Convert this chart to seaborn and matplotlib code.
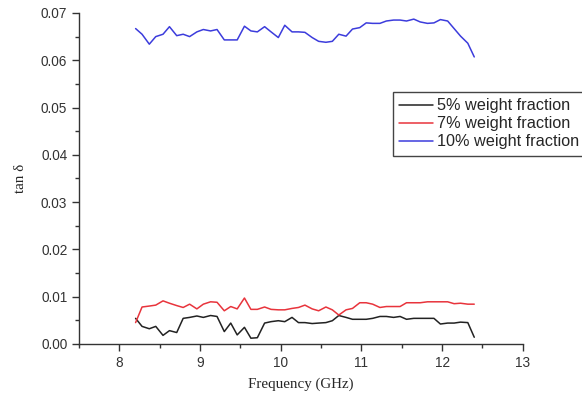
import matplotlib
matplotlib.use("Agg")
import matplotlib.pyplot as plt
from matplotlib.ticker import MultipleLocator
import seaborn as sns
import pandas as pd

# Frequency points (GHz)
freq = [8.20, 8.28, 8.37, 8.45, 8.54, 8.62, 8.71, 8.79, 8.87, 8.96,
        9.04, 9.13, 9.21, 9.30, 9.38, 9.46, 9.55, 9.63, 9.71, 9.80,
        9.88, 9.97, 10.05, 10.14, 10.22, 10.30, 10.39, 10.47, 10.56, 10.64,
        10.72, 10.81, 10.89, 10.98, 11.06, 11.14, 11.23, 11.31, 11.40, 11.48,
        11.56, 11.65, 11.73, 11.82, 11.90, 11.98, 12.07, 12.15, 12.23, 12.32,
        12.40]

# tan delta for each weight fraction
tan_5 = [0.0054, 0.0037, 0.0032, 0.0037, 0.0018, 0.0028, 0.0024, 0.0054, 0.0056, 0.0059,
         0.0056, 0.0060, 0.0058, 0.0026, 0.0044, 0.0019, 0.0035, 0.0012, 0.0013, 0.0044,
         0.0047, 0.0049, 0.0047, 0.0056, 0.0045, 0.0045, 0.0043, 0.0044, 0.0045, 0.0049,
         0.0060, 0.0056, 0.0052, 0.0052, 0.0052, 0.0054, 0.0058, 0.0058, 0.0056, 0.0058,
         0.0052, 0.0054, 0.0054, 0.0054, 0.0054, 0.0042, 0.0044, 0.0044, 0.0046, 0.0045,
         0.0014]
tan_7 = [0.0045, 0.0078, 0.0080, 0.0082, 0.0091, 0.0086, 0.0081, 0.0077, 0.0084, 0.0074,
         0.0084, 0.0089, 0.0088, 0.0070, 0.0079, 0.0074, 0.0097, 0.0073, 0.0073, 0.0078,
         0.0073, 0.0072, 0.0072, 0.0075, 0.0077, 0.0082, 0.0074, 0.0070, 0.0078, 0.0072,
         0.0061, 0.0072, 0.0075, 0.0087, 0.0087, 0.0084, 0.0077, 0.0079, 0.0079, 0.0079,
         0.0087, 0.0087, 0.0087, 0.0089, 0.0089, 0.0089, 0.0089, 0.0085, 0.0086, 0.0084,
         0.0084]
tan_10 = [0.0667, 0.0655, 0.0634, 0.0650, 0.0655, 0.0671, 0.0652, 0.0655, 0.0650, 0.0660,
          0.0665, 0.0662, 0.0665, 0.0643, 0.0643, 0.0643, 0.0672, 0.0662, 0.0660, 0.0671,
          0.0660, 0.0648, 0.0674, 0.0660, 0.0660, 0.0659, 0.0648, 0.0640, 0.0638, 0.0640,
          0.0655, 0.0651, 0.0666, 0.0669, 0.0679, 0.0678, 0.0678, 0.0683, 0.0685, 0.0685,
          0.0683, 0.0687, 0.0681, 0.0678, 0.0679, 0.0686, 0.0683, 0.0667, 0.0651, 0.0636,
          0.0607]

labels = ["5% weight fraction", "7% weight fraction", "10% weight fraction"]
colors = ["#222222", "#e8343c", "#3c3cdc"]

df = pd.DataFrame({"freq": freq * 3,
                   "tan": tan_5 + tan_7 + tan_10,
                   "series": [labels[0]] * len(freq) + [labels[1]] * len(freq) + [labels[2]] * len(freq)})

sns.set_style("ticks")
plt.rcParams["font.family"] = ["Liberation Sans", "DejaVu Sans"]

fig = plt.figure(figsize=(5.82, 3.93), dpi=100)
ax = fig.add_axes([0.136, 0.125, 0.762, 0.842])

sns.lineplot(data=df, x="freq", y="tan", hue="series", palette=colors,
             linewidth=1.1, ax=ax, legend=False, sort=False)

ax.set_xlim(7.5, 13)
ax.set_ylim(0, 0.07)
ax.xaxis.set_major_locator(MultipleLocator(1))
ax.xaxis.set_minor_locator(MultipleLocator(0.5))
ax.yaxis.set_major_locator(MultipleLocator(0.01))
ax.yaxis.set_minor_locator(MultipleLocator(0.005))
ax.yaxis.set_major_formatter(matplotlib.ticker.FormatStrFormatter("%.2f"))
ax.tick_params(which="major", length=5, width=1, labelsize=9.8, colors="#333333", labelcolor="#333333")
ax.tick_params(which="minor", length=3, width=1, colors="#333333")
sns.despine(ax=ax)
for s in ["left", "bottom"]:
    ax.spines[s].set_color("#333333")
    ax.spines[s].set_linewidth(1)

ax.set_xlabel("Frequency (GHz)", family=["Liberation Serif", "DejaVu Serif"], fontsize=10.8, labelpad=6)
ax.set_ylabel("tan δ", family=["Liberation Serif", "DejaVu Serif"], fontsize=10.8, labelpad=10)

handles = [plt.Line2D([], [], color=c, linewidth=1.1) for c in colors]
fig.legend(handles, labels, loc="upper left", bbox_to_anchor=(0.675, 0.766),
           bbox_transform=fig.transFigure, fontsize=11.7, frameon=True, fancybox=False,
           edgecolor="#444444", framealpha=1, handlelength=2.1, handletextpad=0.2,
           labelspacing=0.18, borderpad=0.4, borderaxespad=0)

fig.savefig("out.png", dpi=100)
